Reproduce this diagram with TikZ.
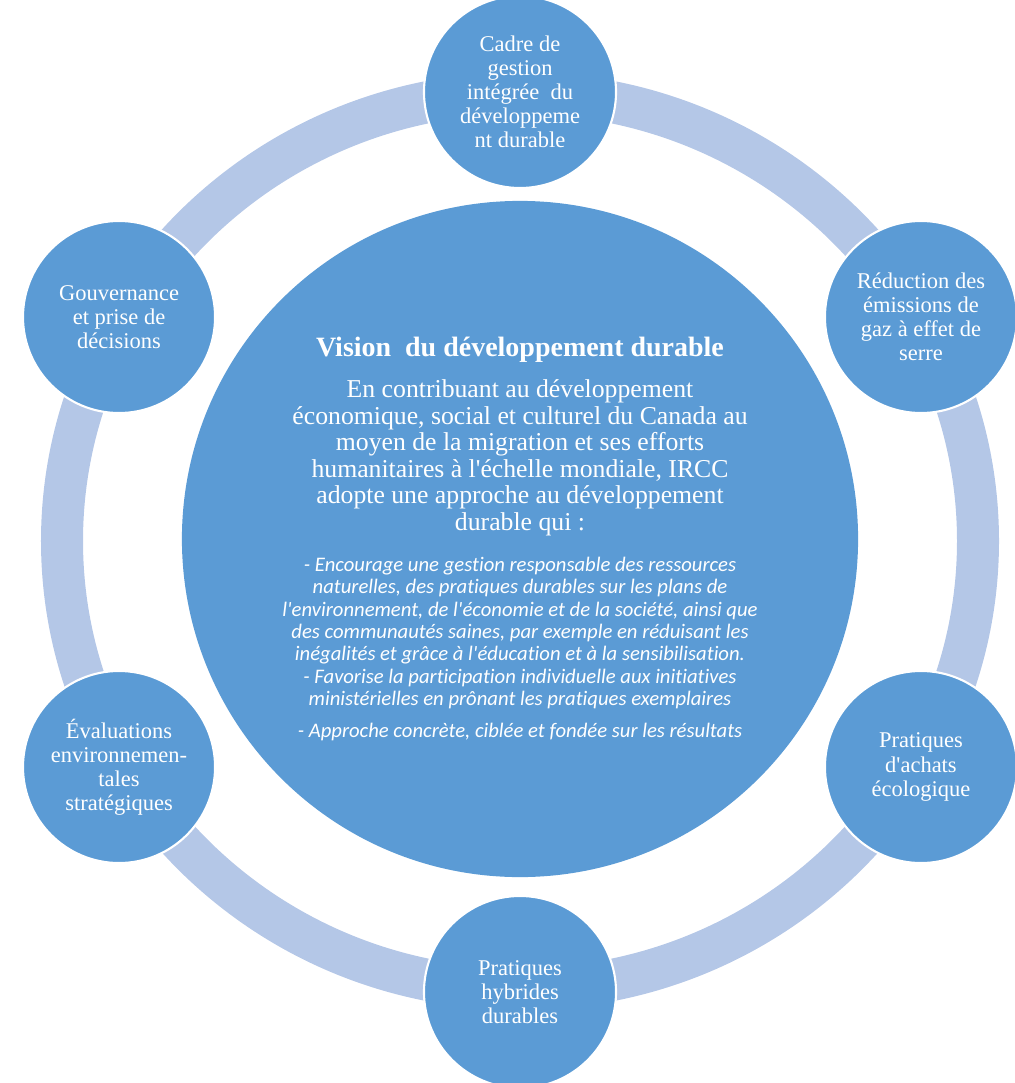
\documentclass[tikz,border=0pt]{standalone}
\usepackage{fontspec}
\setmainfont{Liberation Serif}
\newfontfamily\calibri{Carlito}[Ligatures=NoCommon]
\definecolor{discblue}{HTML}{5B9BD5}
\definecolor{ringblue}{HTML}{B4C7E7}
\newcommand{\q}{\textquotesingle}

\begin{document}
\begin{tikzpicture}[x=0.025cm, y=-0.025cm,
    satellite/.style={circle, fill=discblue, draw=white, line width=1.5pt,
        minimum size=4.8cm, inner sep=0pt, text=white, align=center,
        font=\fontsize{16}{17.1}\selectfont},
    bodytext/.style={text=white, align=center, inner sep=0pt},
    goaltext/.style={bodytext, font=\calibri\itshape\fontsize{14.7}{15.9}\selectfont}]
\useasboundingbox (0,0) rectangle (1014,1083);
% ring behind the discs
\draw[ringblue, line width=1.05cm] (520,541) ellipse [x radius=458, y radius=448];
\node[circle, fill=discblue, minimum size=16.9cm, inner sep=0pt] (vision) at (520,539) {};
% six discs round the ring
\foreach \ang/\name/\txt in {
    90/cadre/{Cadre de\\gestion\\intégrée\ \ du\\développeme\\nt durable},
    30/reduction/{Réduction des\\émissions de\\gaz à effet de\\serre},
    -30/achats/{Pratiques\\d\q achats\\écologique},
    -90/hybrides/{Pratiques\\hybrides\\durables},
    -150/evaluations/{Évaluations\\environnemen-\\tales\\stratégiques},
    150/gouvernance/{Gouvernance\\et prise de\\décisions}}
    \node[satellite] (\name) at ({520+463*cos(\ang)}, {542-450*sin(\ang)}) {\txt};
% texts in the middle disc
\node[bodytext, font=\fontsize{19.9}{20}\selectfont\bfseries] (title) at (520,350)
    {Vision\ \ du développement durable};
\node[bodytext, font=\fontsize{18.3}{18.85}\selectfont] (intro) at (520,458)
    {En contribuant au développement\\
     économique, social et culturel du Canada au\\
     moyen de la migration et ses efforts\\
     humanitaires à l\q échelle mondiale, IRCC\\
     adopte une approche au développement\\
     durable qui :};
\node[goaltext] (goals) at (520,633)
    {- Encourage une gestion responsable des ressources\\
     naturelles, des pratiques durables sur les plans de\\
     l\q environnement, de l\q économie et de la société, ainsi que\\
     des communautés saines, par exemple en réduisant les\\
     inégalités et grâce à l\q éducation et à la sensibilisation.\\
     - Favorise la participation individuelle aux initiatives\\
     ministérielles en prônant les pratiques exemplaires};
\node[goaltext] (results) at (520,732)
    {- Approche concrète, ciblée et fondée sur les résultats};
\end{tikzpicture}
\end{document}
